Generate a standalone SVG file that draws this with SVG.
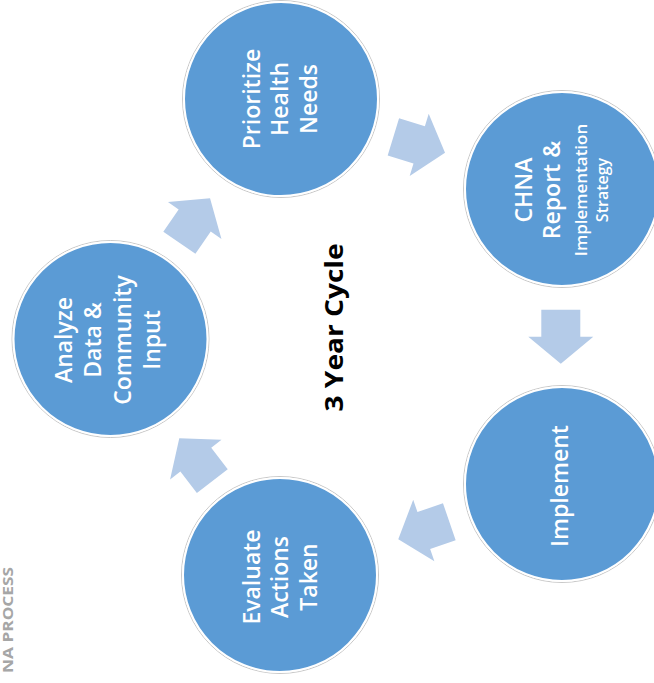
<svg xmlns="http://www.w3.org/2000/svg" width="654" height="683" viewBox="0 0 654 683">
<style>
.ring{fill:#5B9BD5;stroke:#ffffff;stroke-width:2}
.halo{fill:none;stroke:#c8c8c8;stroke-width:1}
.lbl{font-family:"Open Sans","Liberation Sans",sans-serif;font-weight:600;fill:#ffffff;text-anchor:middle;font-size:23px}
.arrow{fill:#B4CBE8}
.title{font-family:"Open Sans","Liberation Sans",sans-serif;font-weight:700;fill:#000000;text-anchor:middle;font-size:25px}
.side{font-family:"Open Sans","Liberation Sans",sans-serif;font-weight:700;fill:#A6A6A6;text-anchor:middle;font-size:15px}
</style>
<defs>
<polygon id="arr" points="-27,-19.5 0,-19.5 0,-32.5 27,0 0,32.5 0,19.5 -27,19.5"/>
</defs>
<g id="connectors" class="arrow">
<use href="#arr" transform="translate(419.2,144.8) rotate(17)"/>
<use href="#arr" transform="translate(560.8,336.7) rotate(90)"/>
<use href="#arr" transform="translate(423.8,530.5) rotate(161)"/>
<use href="#arr" transform="translate(195.8,459.7) rotate(-127.7)"/>
<use href="#arr" transform="translate(194.7,220.5) rotate(-55.4)"/>
</g>
<g id="prioritize">
<circle class="halo" cx="281" cy="99" r="98.5"/>
<circle class="ring" cx="281" cy="99" r="97"/>
<g transform="translate(0,99) rotate(-90)">
<text class="lbl" x="0" y="260">Prioritize</text>
<text class="lbl" x="0" y="288">Health</text>
<text class="lbl" x="0" y="317">Needs</text>
</g>
</g>
<g id="chna">
<circle class="halo" cx="562" cy="189" r="98.5"/>
<circle class="ring" cx="562" cy="189" r="97"/>
<g transform="translate(0,190) rotate(-90)">
<text class="lbl" x="0" y="532">CHNA</text>
<text class="lbl" x="0" y="560">Report &amp;</text>
<text class="lbl" x="0" y="587" style="font-size:17px">Implementation</text>
<text class="lbl" x="0" y="608" style="font-size:16px">Strategy</text>
</g>
</g>
<g id="implement">
<circle class="halo" cx="562" cy="484" r="98.5"/>
<circle class="ring" cx="562" cy="484" r="97"/>
<g transform="translate(0,486) rotate(-90)">
<text class="lbl" x="0" y="568">Implement</text>
</g>
</g>
<g id="evaluate">
<circle class="halo" cx="280" cy="575" r="98.5"/>
<circle class="ring" cx="280" cy="575" r="97"/>
<g transform="translate(0,577) rotate(-90)">
<text class="lbl" x="0" y="260">Evaluate</text>
<text class="lbl" x="0" y="288">Actions</text>
<text class="lbl" x="0" y="317">Taken</text>
</g>
</g>
<g id="analyze">
<circle class="halo" cx="110.5" cy="339" r="98.5"/>
<circle class="ring" cx="110.5" cy="339" r="97"/>
<g transform="translate(0,340) rotate(-90)">
<text class="lbl" x="0" y="72">Analyze</text>
<text class="lbl" x="0" y="101">Data &amp;</text>
<text class="lbl" x="0" y="131">Community</text>
<text class="lbl" x="0" y="160">Input</text>
</g>
</g>
<g id="center-label" transform="translate(0,327.5) rotate(-90)">
<text class="title" x="0" y="343" textLength="168" lengthAdjust="spacingAndGlyphs">3 Year Cycle</text>
</g>
<g id="side-label" transform="translate(0,620) rotate(-90)">
<text class="side" x="0" y="13" textLength="106" lengthAdjust="spacingAndGlyphs">NA PROCESS</text>
</g>
</svg>
